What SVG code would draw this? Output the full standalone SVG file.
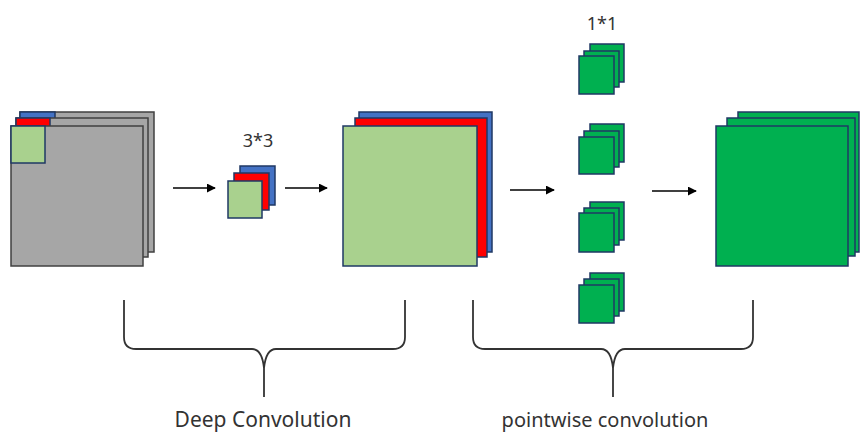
<svg xmlns="http://www.w3.org/2000/svg" width="861" height="434" viewBox="0 0 861 434">
<defs>
<marker id="ah" viewBox="0 0 10 10" refX="9" refY="5" markerWidth="9" markerHeight="9" markerUnits="userSpaceOnUse" orient="auto">
<path d="M0,0 L10,5 L0,10 z" fill="#000"/>
</marker>
</defs>
<style>
.gr{fill:#a6a6a6;stroke:#404040;stroke-width:1.5}
.bl{fill:#4472c4;stroke:#1f3864;stroke-width:1.5}
.rd{fill:#ff0000;stroke:#1f3864;stroke-width:1.5}
.lg{fill:#a9d18e;stroke:#1f3864;stroke-width:1.5}
.gn{fill:#00b050;stroke:#1f3864;stroke-width:1.5}
.arr{stroke:#000;stroke-width:1.6;fill:none;marker-end:url(#ah)}
.br{stroke:#333;stroke-width:1.8;fill:none}
.t{font-family:"Noto Sans","Liberation Sans",sans-serif;fill:#333}
</style>
<rect width="861" height="434" fill="#fff"/>
<g id="input">
<rect class="gr" x="20" y="112" width="134" height="140"/>
<rect class="bl" x="20" y="112" width="35" height="8"/>
<rect class="gr" x="16" y="118" width="132" height="139"/>
<rect class="rd" x="16" y="118" width="34" height="9"/>
<rect class="gr" x="11" y="126" width="132" height="140"/>
<rect class="lg" x="11" y="126" width="34" height="37"/>
</g>
<g id="kernel3x3">
<rect class="bl" x="240" y="166" width="35" height="39"/>
<rect class="rd" x="234" y="173" width="35" height="37"/>
<rect class="lg" x="228" y="181" width="34" height="37"/>
<text class="t" x="258" y="147" font-size="18" text-anchor="middle">3*3</text>
</g>
<g id="depth-out">
<rect class="bl" x="359" y="112" width="133" height="140"/>
<rect class="rd" x="355" y="118" width="132" height="139"/>
<rect class="lg" x="343" y="126" width="134" height="140"/>
</g>
<g id="kernels1x1">
<text class="t" x="602" y="30" font-size="18" text-anchor="middle">1*1</text>
<g id="k1">
<rect class="gn" x="590" y="44" width="34" height="38"/>
<rect class="gn" x="584" y="51" width="35" height="36"/>
<rect class="gn" x="579" y="56" width="35" height="38"/>
</g>
<g id="k2">
<rect class="gn" x="590" y="124" width="34" height="38"/>
<rect class="gn" x="584" y="131" width="35" height="36"/>
<rect class="gn" x="579" y="137" width="35" height="37"/>
</g>
<g id="k3">
<rect class="gn" x="590" y="202" width="34" height="38"/>
<rect class="gn" x="584" y="208" width="35" height="37"/>
<rect class="gn" x="579" y="213" width="35" height="39"/>
</g>
<g id="k4">
<rect class="gn" x="590" y="273" width="34" height="38"/>
<rect class="gn" x="584" y="279" width="35" height="37"/>
<rect class="gn" x="579" y="285" width="35" height="38"/>
</g>
</g>
<g id="output">
<rect class="gn" x="738" y="112" width="121" height="140"/>
<rect class="gn" x="727" y="118" width="128" height="138"/>
<rect class="gn" x="716" y="126" width="132" height="140"/>
</g>
<g id="connectors">
<line class="arr" x1="173" y1="188" x2="215" y2="188"/>
<line class="arr" x1="285" y1="188" x2="327" y2="188"/>
<line class="arr" x1="510" y1="190" x2="554" y2="190"/>
<line class="arr" x1="652" y1="191" x2="696" y2="191"/>
</g>
<g id="brace-depth">
<path class="br" d="M124,300 L124,337 Q124,349 136,349 L252,349 Q262,349 264,368 L264,397 M264,397 L264,368 Q266,349 276,349 L393,349 Q405,349 405,337 L405,300"/>
<text class="t" x="263" y="427" font-size="21" text-anchor="middle">Deep Convolution</text>
</g>
<g id="brace-point">
<path class="br" d="M473,300 L473,337 Q473,349 485,349 L601,349 Q611,349 613,368 L613,397 M613,397 L613,368 Q615,349 625,349 L741,349 Q753,349 753,337 L753,300"/>
<text class="t" x="605" y="427" font-size="20" text-anchor="middle">pointwise convolution</text>
</g>
</svg>
